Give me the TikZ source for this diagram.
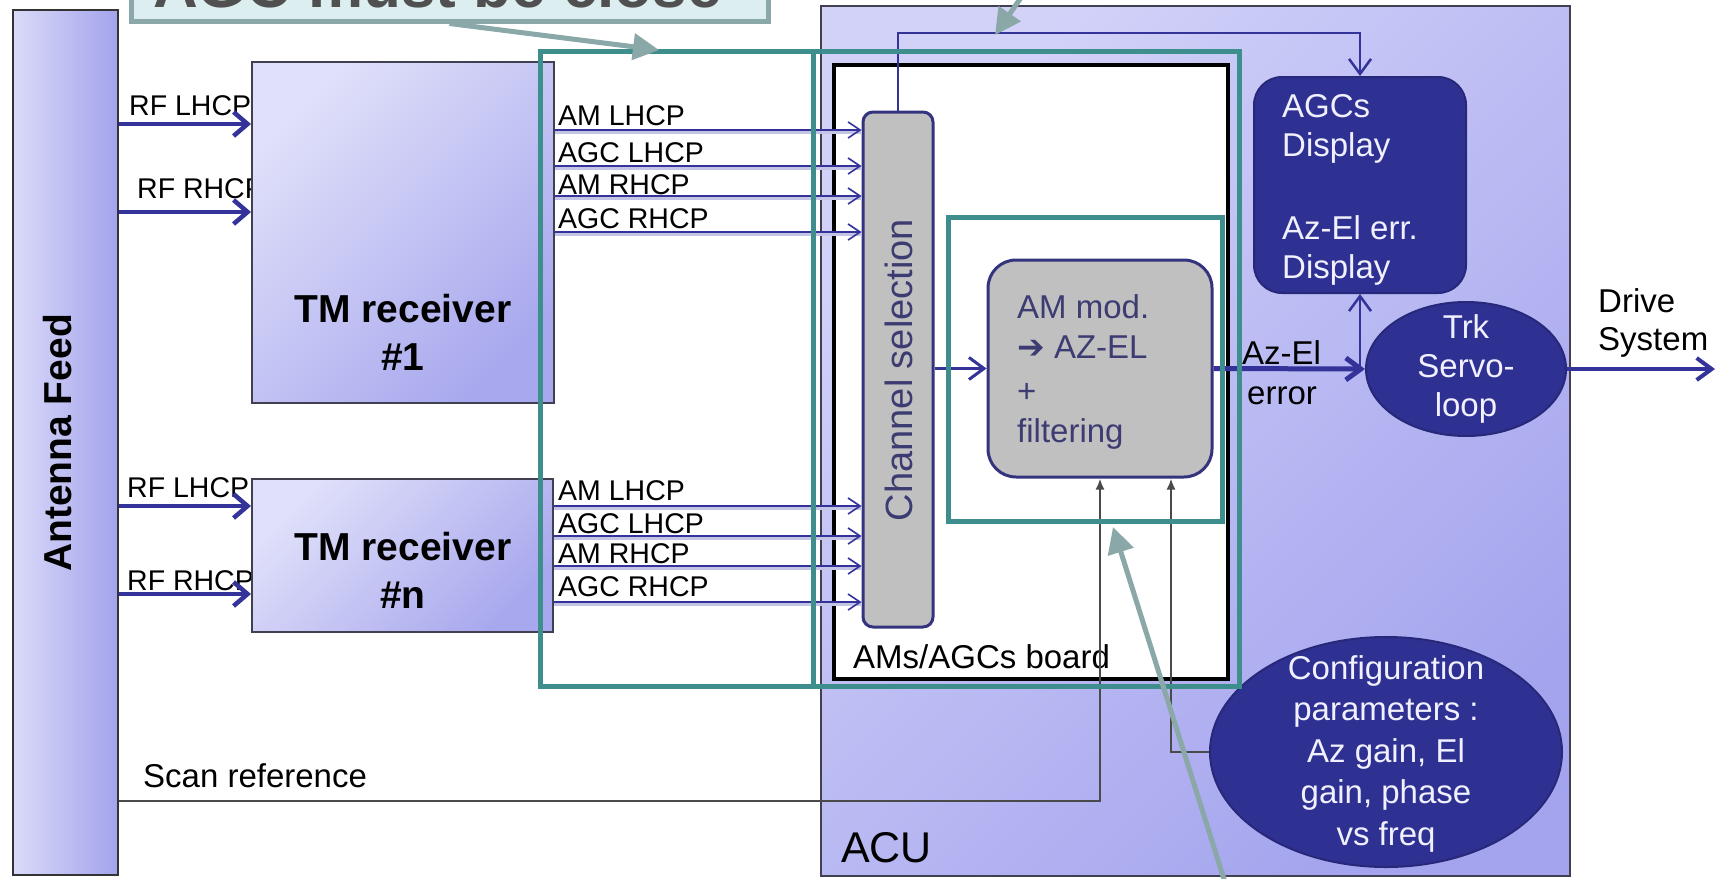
\documentclass[tikz,border=0pt]{standalone}
\usepackage{fontspec}
\setmainfont{Liberation Sans}
\newfontfamily\symfont{DejaVu Sans}
\usetikzlibrary{arrows.meta,shapes.geometric}

\newcommand\fsz[2]{\fontsize{#1pt}{#2pt}\selectfont}

\definecolor{navy}{HTML}{2E3192}
\definecolor{navyedge}{HTML}{28287A}
\definecolor{wire}{HTML}{33339A}
\definecolor{wireshade}{HTML}{C4C4E6}
\definecolor{hiteal}{HTML}{3E8E8E}
\definecolor{antL}{HTML}{DADAF9}
\definecolor{antR}{HTML}{A3A3EC}
\definecolor{acuL}{HTML}{D2D2F9}
\definecolor{acuR}{HTML}{A4A4EE}
\definecolor{tmL}{HTML}{E0E0FA}
\definecolor{tmR}{HTML}{A8A8EE}
\definecolor{boxedge}{HTML}{404050}
\definecolor{chipgrey}{HTML}{C0C0C0}
\definecolor{chipedge}{HTML}{34347E}
\definecolor{chiptext}{HTML}{3C3C72}
\definecolor{notefill}{HTML}{DCEEF0}
\definecolor{noteedge}{HTML}{8BA8A8}
\definecolor{notetext}{HTML}{505050}
\definecolor{ctlgrey}{HTML}{4A4A4A}
\definecolor{paletext}{HTML}{F0F0FF}

\tikzset{
  box/.style={rectangle, draw=boxedge, line width=2pt, inner sep=0pt},
  tmshade/.style={top color=tmL, bottom color=tmR, shading angle=45},
  chip/.style={rectangle, draw=chipedge, line width=3pt, fill=chipgrey, inner sep=0pt},
  darkbox/.style={rectangle, draw=navyedge, line width=2pt, fill=navy, inner sep=0pt},
  darkoval/.style={ellipse, draw=navyedge, line width=2pt, fill=navy, inner sep=0pt},
  sig/.style={draw=wire, line width=1.6pt, -{Straight Barb[length=12pt,width=16pt]},
    preaction={draw=wireshade, line width=3pt, -, transform canvas={yshift=-2.5pt}}},
  rf/.style={draw=wire, line width=4.5pt, -{Straight Barb[length=14pt,width=24pt]}},
  bus/.style={draw=wire, line width=#1, -{Straight Barb[length=15pt,width=22pt]}},
  ctl/.style={draw=ctlgrey, line width=2pt, -{Latex[length=11pt,width=9pt]}},
  lbl/.style={font=\fsz{28.5}{34}, anchor=base west, inner sep=0pt},
  txt/.style={font=\fsz{33}{40}, inner sep=0pt},
  title/.style={font=\bfseries\fsz{39}{48}, inner sep=0pt},
  chiptxt/.style={txt, text=chiptext, anchor=base west},
  palem/.style={txt, text=paletext, anchor=base},
  palel/.style={txt, text=paletext, anchor=base west},
  hl/.style={rectangle, draw=hiteal, line width=5pt, inner sep=0pt},
  note/.style={rectangle, draw=noteedge, line width=5pt, fill=notefill, inner sep=0pt},
  pointer/.style={draw=noteedge, line width=5pt, -{Triangle[length=26pt,width=26pt]}},
}

\begin{document}
\begin{tikzpicture}[x=1pt,y=-1pt]
\useasboundingbox (0,0) rectangle (1723,878);
\clip (0,0) rectangle (1723,878);
\fill[white] (0,0) rectangle (1723,878);

% reference rows
\coordinate (yrf1) at (0,124);
\coordinate (yrf2) at (0,212);
\coordinate (yrf3) at (0,506);
\coordinate (yrf4) at (0,594);
\coordinate (yscan) at (0,801);
\coordinate (ytop) at (0,33);
\coordinate (xdiv) at (813,0);
\coordinate (drive) at (1715,369);

% antenna feed column
\node[box, draw=black!80, minimum width=105pt, minimum height=865pt,
      left color=antL, right color=antR] (ant) at (65.5,442.5) {};
\node[title, rotate=90] (antt) at (58,443) {Antenna Feed};

% ACU cabinet
\node[box, minimum width=749pt, minimum height=870pt,
      top color=acuL, bottom color=acuR, shading angle=45] (acu) at (1195.5,441) {};
\node[font=\fsz{43}{50}, inner sep=0pt, anchor=base west] (acut) at (841,862) {ACU};

% AMs/AGCs board
\node[rectangle, draw=black, line width=3.5pt, fill=white, inner sep=0pt,
      minimum width=394pt, minimum height=614pt] (board) at (1031,372) {};
\node[txt, anchor=base west] (boardt) at (853,668) {AMs/AGCs board};

% RF inputs (labels first, the receivers overlap their ends)
\node[lbl] (rf1l) at (129,115) {RF LHCP};
\node[lbl] (rf1r) at (137,198) {RF RHCP};
\node[lbl] (rfnl) at (127,497) {RF LHCP};
\node[lbl] (rfnr) at (127,590) {RF RHCP};

% TM receivers
\node[box, tmshade, minimum width=302pt, minimum height=341pt] (tm1) at (403,232.5) {};
\node[title, anchor=base] (tm1a) at (403,322) {TM receiver};
\node[title, anchor=base] (tm1b) at (403,370) {\#1};
\node[box, tmshade, minimum width=301pt, minimum height=153pt] (tmn) at (402.5,555.5) {};
\node[title, anchor=base] (tmna) at (403,560) {TM receiver};
\node[title, anchor=base] (tmnb) at (403,608) {\#n};

\draw[rf] (ant.east |- yrf1) -- (tm1.west |- yrf1);
\draw[rf] (ant.east |- yrf2) -- (tm1.west |- yrf2);
\draw[rf] (ant.east |- yrf3) -- (tmn.west |- yrf3);
\draw[rf] (ant.east |- yrf4) -- (tmn.west |- yrf4);

% channel selection and AM demodulator
\node[chip, rounded corners=10pt, minimum width=70pt, minimum height=515pt] (chsel) at (898,369.5) {};
\node[font=\fsz{38}{40}, text=chiptext, inner sep=0pt, rotate=90] (chselt) at (899,370) {Channel selection};
\node[chip, rounded corners=28pt, minimum width=224pt, minimum height=217pt] (ammod) at (1100,368.5) {};
\node[chiptxt] (am1) at (1017,318) {AM mod.};
\node[chiptxt] (am2) at (1017,358) {{\symfont ➔} AZ-EL};
\node[chiptxt] (am3) at (1017,402) {+};
\node[chiptxt] (am4) at (1017,442) {filtering};

% receiver outputs
\foreach \i/\yl/\yb/\t in {1/130/125/AM LHCP, 2/166/162/AGC LHCP, 3/196/194/AM RHCP, 4/232/228/AGC RHCP}{
  \coordinate (u\i) at (0,\yl);
  \node[lbl] (ul\i) at (558,\yb) {\t};
  \draw[sig] (tm1.east |- u\i) -- (chsel.west |- u\i);
}
\foreach \i/\yl/\yb/\t in {1/506/500/AM LHCP, 2/536/533/AGC LHCP, 3/566/563/AM RHCP, 4/602/596/AGC RHCP}{
  \coordinate (d\i) at (0,\yl);
  \node[lbl] (dl\i) at (558,\yb) {\t};
  \draw[sig] (tmn.east |- d\i) -- (chsel.west |- d\i);
}

% displays and servo loop
\node[darkbox, rounded corners=28pt, minimum width=212pt, minimum height=216pt] (agc) at (1360,185) {};
\node[palel] (agc1) at (1282,117) {AGCs};
\node[palel] (agc2) at (1282,156) {Display};
\node[palel] (agc3) at (1282,239) {Az-El err.};
\node[palel] (agc4) at (1282,278) {Display};

\node[darkoval, minimum width=200pt, minimum height=134pt] (trk) at (1466,369) {};
\node[palem] (trk1) at (1466,338) {Trk};
\node[palem] (trk2) at (1466,377) {Servo-};
\node[palem] (trk3) at (1466,416) {loop};

\node[darkoval, minimum width=352pt, minimum height=230pt] (cfg) at (1386,752) {};
\node[palem] (cfg1) at (1386,679) {Configuration};
\node[palem] (cfg2) at (1386,720) {parameters :};
\node[palem] (cfg3) at (1386,762) {Az gain, El};
\node[palem] (cfg4) at (1386,803) {gain, phase};
\node[palem] (cfg5) at (1386,845) {vs freq};

% signal flow inside the ACU
\draw[bus=2.5pt] (chsel.north) |- (agc.north |- ytop) -- (agc.north);
\draw[bus=3pt] (chsel.east |- ammod.west) -- (ammod.west);
\draw[bus=5pt] (ammod.east) -- (trk.west);
\draw[bus=2.5pt] (agc.south |- trk.west) -- (agc.south);
\draw[bus=4pt] (trk.east) -- (drive);
\node[txt, anchor=base west] (aze1) at (1242,364) {Az-El};
\node[txt, anchor=base west] (aze2) at (1247,404) {error};
\node[txt, anchor=base west] (drv1) at (1598,312) {Drive};
\node[txt, anchor=base west] (drv2) at (1598,350) {System};

% control inputs to the demodulator
\node[txt, anchor=base west] (scant) at (143,787) {Scan reference};
\draw[ctl] (ant.east |- yscan) -| (ammod.south);
\draw[ctl] (cfg.west) -| ([xshift=71pt]ammod.south);

% highlighted areas
\node[hl, minimum width=699pt, minimum height=635pt] (big) at (889.5,368.5) {};
\draw[hl] (big.north -| xdiv) -- (big.south -| xdiv);
\node[hl, minimum width=274pt, minimum height=304pt] (inner) at (1085,369) {};

% callouts
\node[note, minimum width=637pt, minimum height=101pt] (note1) at (449.5,-29.5) {};
\node[font=\bfseries\fsz{62}{70}, text=notetext, inner sep=0pt, anchor=base west] (note1t) at (153,8) {AGC must be close};
\coordinate (tipA) at (659,50);
\draw[pointer] (note1.south) -- (tipA);
\coordinate (tailB) at (1240,930);
\coordinate (tipB) at (1113,527);
\draw[pointer] (tailB) -- (tipB);
\coordinate (tailC) at (1061,-60);
\coordinate (tipC) at (995,35);
\draw[pointer] (tailC) -- (tipC);
\end{tikzpicture}
\end{document}
